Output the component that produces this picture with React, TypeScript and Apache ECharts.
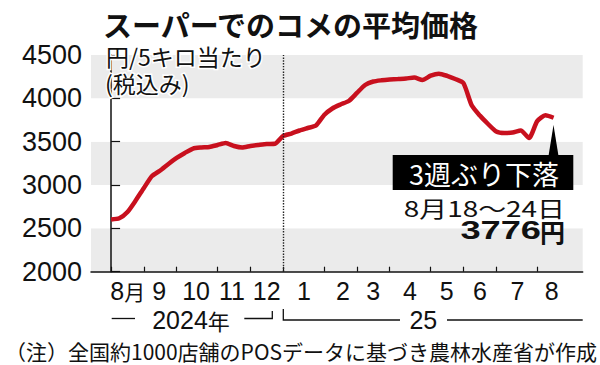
import React, { useEffect, useRef } from "react";
import * as echarts from "echarts";

// weekly average price (yen / 5kg), week of Aug 5-11 2024 ... Aug 18-24 2025
const prices = [
  2602, 2616, 2689, 2821, 2966, 3104, 3168, 3243, 3312, 3370,
  3421, 3433, 3439, 3462, 3485, 3450, 3433, 3450, 3462, 3473,
  3476, 3566, 3594, 3629, 3658, 3687, 3808, 3883, 3929, 3969,
  4062, 4154, 4194, 4208, 4217, 4223, 4229, 4240, 4212, 4261,
  4285, 4260, 4223, 4176, 3920, 3801, 3704, 3617, 3600, 3606,
  3629, 3542, 3737, 3804, 3776,
];
// week index where each month starts (tick marks)
const monthTickWeeks = [0, 4, 8, 13, 17, 21, 26, 30, 34, 39, 43, 47, 52];
// month labels and their positions (week index)
const monthLabels = ["8月", "9", "10", "11", "12", "1", "2", "3", "4", "5", "6", "7", "8"];
const monthLabelWeeks = [2.04, 5.86, 10.37, 14.76, 18.99, 23.54, 28.3, 32.0, 36.47, 40.95, 45.01, 49.58, 53.76];
const yearBoundaryWeek = 21;
const yTicks = { min: 2000, max: 4500, interval: 500 };

const NUM = "'Liberation Sans', Arial, sans-serif";
const CJK = "'Noto Sans CJK JP', sans-serif";

export default function App() {
  const ref = useRef<HTMLDivElement>(null);
  useEffect(() => {
    if (!ref.current) return;
    const chart = echarts.init(ref.current, undefined, { renderer: "svg" });
    const txt = (o: any) => ({ type: "text", silent: true, z: 100, ...o });
    const shp = (o: any) => ({ silent: true, z: 100, ...o });
    const mid = { verticalAlign: "middle", textVerticalAlign: "middle" };
    chart.setOption({
      animation: false,
      backgroundColor: "#ffffff",
      title: {
        text: "スーパーでのコメの平均価格",
        left: 98,
        top: 4,
        textStyle: { fontSize: 29, lineHeight: 29, fontWeight: "bold", fontFamily: CJK, color: "#111" },
      },
      grid: { left: 91, right: 17.3, top: 55, bottom: 93.3, containLabel: false },
      xAxis: {
        type: "value",
        min: -2.45,
        max: 57.55,
        axisLine: { show: true, lineStyle: { color: "#111", width: 1.5 } },
        axisTick: {
          show: true,
          inside: true,
          length: 5,
          customValues: monthTickWeeks,
          lineStyle: { color: "#111", width: 1.2 },
        },
        axisLabel: {
          customValues: monthLabelWeeks,
          margin: 7,
          color: "#111",
          fontSize: 25,
          fontFamily: NUM,
          formatter: (v: number) => {
            let best = 0;
            monthLabelWeeks.forEach((w, i) => {
              if (Math.abs(w - v) < Math.abs(monthLabelWeeks[best] - v)) best = i;
            });
            const s = monthLabels[best];
            if (s.endsWith("月")) return "{n|" + s.slice(0, -1) + "}{k|月}";
            return "{n|" + s + "}";
          },
          rich: {
            n: { fontSize: 25, fontFamily: NUM, color: "#111" },
            k: { fontSize: 21, fontFamily: CJK, color: "#111" },
          },
        },
        splitLine: { show: false },
      },
      yAxis: {
        type: "value",
        min: yTicks.min,
        max: yTicks.max,
        interval: yTicks.interval,
        axisLine: { show: true, lineStyle: { color: "#111", width: 1.5 } },
        axisTick: { show: true, inside: true, length: 9, lineStyle: { color: "#111", width: 1.2 } },
        axisLabel: {
          fontSize: 27,
          fontFamily: NUM,
          color: "#111",
          margin: 9,
          formatter: (v: number) => String(v),
        },
        splitLine: { show: false },
        splitArea: { show: true, areaStyle: { color: ["#ebebeb", "#ffffff"] } },
      },
      series: [
        {
          type: "line",
          data: prices.map((v, i) => [i, v]),
          showSymbol: false,
          smooth: 0.2,
          lineStyle: { color: "#c8101e", width: 4.5 },
          markLine: {
            silent: true,
            symbol: "none",
            label: { show: false },
            lineStyle: { type: "dotted", color: "#222", width: 1.4 },
            data: [{ xAxis: yearBoundaryWeek }],
          },
          z: 3,
        },
      ],
      graphic: [
        txt({
          x: 106, y: 56,
          style: {
            text: "円/5キロ当たり", fontSize: 23, lineHeight: 19, fontFamily: CJK, fill: "#111",
            align: "left", textAlign: "left", ...mid,
            stroke: "#fff", lineWidth: 3,
          },
        }),
        txt({
          x: 105, y: 82.5,
          style: {
            text: "(税込み)", fontSize: 23, lineHeight: 19, fontFamily: CJK, fill: "#111",
            align: "left", textAlign: "left", ...mid,
            stroke: "#fff", lineWidth: 3,
          },
        }),
        shp({ type: "polygon", shape: { points: [[553.5, 125], [548.5, 156], [558.5, 156]] }, style: { fill: "#000" } }),
        shp({ type: "rect", shape: { x: 392.7, y: 155, width: 180.6, height: 35 }, style: { fill: "#000" } }),
        txt({
          x: 484, y: 173,
          style: {
            text: "3週ぶり下落", fontSize: 27, fontFamily: CJK, fill: "#fff",
            align: "center", textAlign: "center", ...mid,
          },
        }),
        txt({
          x: 565, y: 207.5, scaleX: 1.27,
          style: {
            text: "8月18～24日", fontSize: 22, lineHeight: 20, fontFamily: CJK, fill: "#111",
            align: "right", textAlign: "right", ...mid,
          },
        }),
        txt({
          x: 565, y: 230.5,
          style: {
            text: "円", fontSize: 25, lineHeight: 21, fontWeight: "bold", fontFamily: CJK, fill: "#111",
            align: "right", textAlign: "right", ...mid,
          },
        }),
        txt({
          x: 541, y: 231, scaleX: 1.45,
          style: {
            text: "3776", fontSize: 25, lineHeight: 21, fontWeight: "bold", fontFamily: NUM, fill: "#111",
            align: "right", textAlign: "right", ...mid,
          },
        }),
        // year brackets
        shp({ type: "line", shape: { x1: 111.7, y1: 318.5, x2: 135, y2: 318.5 }, style: { stroke: "#111", lineWidth: 1.3 } }),
        txt({
          x: 191, y: 320,
          style: {
            text: "{n|2024}{k|年}",
            rich: {
              n: { fontSize: 25, fontFamily: NUM, fill: "#111" },
              k: { fontSize: 22, fontFamily: CJK, fill: "#111" },
            },
            align: "center", textAlign: "center", ...mid,
          },
        }),
        shp({ type: "polyline", shape: { points: [[244.3, 318.5], [272.3, 318.5], [272.3, 311]] }, style: { stroke: "#111", lineWidth: 1.3, fill: null } }),
        shp({ type: "polyline", shape: { points: [[283.3, 309], [283.3, 320], [400, 320]] }, style: { stroke: "#111", lineWidth: 1.3, fill: null } }),
        txt({
          x: 423.3, y: 320,
          style: {
            text: "25", fontSize: 25, fontFamily: NUM, fill: "#111",
            align: "center", textAlign: "center", ...mid,
          },
        }),
        shp({ type: "line", shape: { x1: 447, y1: 320, x2: 582.7, y2: 320 }, style: { stroke: "#111", lineWidth: 1.3 } }),
        txt({
          x: 5, y: 351,
          style: {
            text: "（注）全国約1000店舗のPOSデータに基づき農林水産省が作成", fontSize: 21, fontFamily: CJK, fill: "#111",
            align: "left", textAlign: "left", ...mid,
          },
        }),
      ],
    });
    return () => chart.dispose();
  }, []);
  return <div ref={ref} style={{ width: 600, height: 365, position: "absolute", left: 0, top: 0 }} />;
}
